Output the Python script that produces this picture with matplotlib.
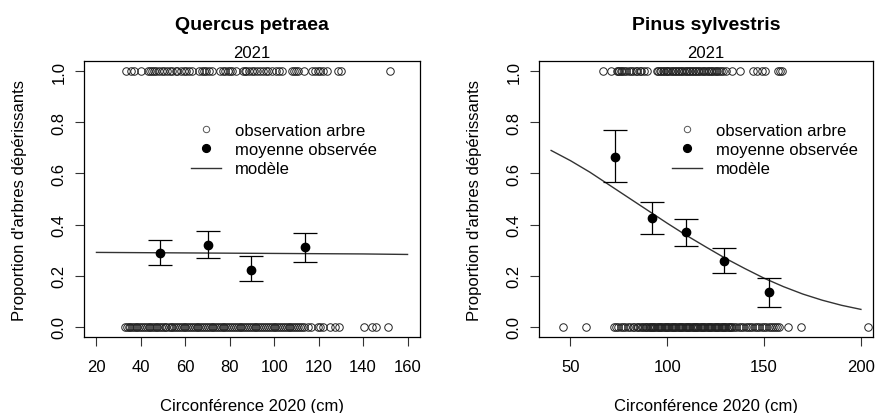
import matplotlib
matplotlib.use("Agg")
import matplotlib.pyplot as plt
from matplotlib.lines import Line2D

plt.rcParams['font.family'] = ['Liberation Sans', 'DejaVu Sans']

# ---- Quercus petraea ----
qp_obs1 = [33.2, 35.4, 36.8, 40.1, 43.0, 44.2, 45.1, 46.0, 46.9, 48.3, 49.5, 50.2, 51.8, 53.0,
           54.1, 55.6, 56.3, 57.9, 59.2, 60.4, 61.5, 62.8, 66.3, 67.5, 68.2, 69.4, 70.6, 72.0,
           75.4, 76.8, 78.0, 79.3, 80.1, 81.2, 82.9, 85.8, 86.7, 87.5, 88.6, 89.9, 91.0, 92.2,
           93.4, 94.8, 96.1, 97.3, 99.0, 100.6, 102.1, 103.5, 107.9, 108.8, 109.7, 110.9, 113.2,
           116.9, 118.4, 119.6, 120.5, 121.8, 123.6, 128.6, 130.0, 152.2]
qp_obs0 = [33.0, 33.6, 34.5, 35.3, 36.0, 36.9, 37.8, 38.4, 39.3, 40.2, 41.0, 41.7, 42.6, 43.5,
           44.1, 45.0, 45.9, 46.6, 47.4, 48.3, 49.1, 50.0, 50.8, 51.5, 52.6, 53.4, 54.2, 55.1,
           55.9, 56.7, 57.6, 58.3, 59.2, 60.0, 60.9, 61.7, 62.5, 63.4, 64.2, 65.1, 65.8, 66.7,
           67.6, 68.4, 69.3, 70.1, 70.9, 71.8, 72.6, 73.5, 74.3, 75.0, 75.9, 76.8, 77.6, 78.5,
           79.3, 80.2, 81.0, 81.9, 82.7, 83.5, 84.4, 85.2, 86.1, 86.9, 87.8, 88.6, 89.5, 90.3,
           91.2, 92.0, 92.9, 93.7, 94.6, 95.4, 96.3, 97.1, 98.0, 98.8, 99.7, 100.5, 101.4, 102.2,
           103.1, 103.9, 104.8, 105.6, 106.5, 107.3, 108.2, 109.0, 109.9, 110.7, 111.6, 112.4,
           113.3, 115.2, 116.4, 119.6, 120.8, 122.1, 124.9, 127.4, 129.3, 140.4, 143.8, 145.9, 151.0]
qp_cls = [48.6, 70.1, 89.5, 113.9]
qp_mean = [0.289, 0.320, 0.224, 0.312]
qp_lo = [0.241, 0.268, 0.178, 0.255]
qp_hi = [0.341, 0.373, 0.276, 0.368]
qp_mod_x = [20, 40, 60, 80, 100, 120, 140, 160]
qp_mod_y = [0.291, 0.290, 0.289, 0.288, 0.287, 0.286, 0.285, 0.283]

# ---- Pinus sylvestris ----
ps_obs1 = [66.6, 70.7, 73.8, 74.6, 75.3, 76.0, 76.8, 77.5, 78.9, 80.2, 81.0, 82.4, 83.7, 84.5,
           85.8, 86.6, 87.9, 89.6, 94.5, 95.3, 96.0, 96.9, 97.6, 98.4, 99.1, 99.9, 100.6, 101.5,
           102.2, 103.0, 103.8, 104.5, 105.3, 106.2, 107.0, 107.7, 108.6, 109.4, 110.1, 111.0,
           111.8, 112.5, 113.4, 114.2, 115.0, 115.9, 116.6, 117.5, 118.3, 119.1, 120.0, 120.8,
           121.7, 122.4, 123.3, 124.1, 125.0, 125.8, 126.7, 127.5, 128.6, 130.4, 133.3, 137.6,
           144.3, 146.5, 148.8, 150.6, 157.2, 158.0, 159.0]
ps_obs0 = [45.9, 57.8, 72.5, 73.4, 74.6, 76.1, 77.0, 78.3, 79.8, 80.9, 82.1, 83.0, 84.2, 85.1,
           86.0, 86.8, 87.5, 88.3, 89.0, 89.7, 90.3, 90.9, 91.5, 92.1, 92.7, 93.3, 93.9, 94.5,
           95.1, 95.7, 96.3, 96.9, 97.5, 98.1, 98.7, 99.3, 99.9, 100.5, 101.1, 101.7, 102.3,
           102.9, 103.5, 104.1, 104.7, 105.3, 105.9, 106.5, 107.1, 107.7, 108.3, 108.9, 109.5,
           110.1, 110.7, 111.3, 111.9, 112.5, 113.1, 113.7, 114.3, 114.9, 115.5, 116.1, 116.7,
           117.3, 117.9, 118.5, 119.1, 119.7, 120.3, 120.9, 121.5, 122.1, 122.7, 123.3, 123.9,
           124.5, 125.1, 125.7, 126.3, 126.9, 127.5, 128.1, 128.7, 129.3, 129.9, 130.5, 131.1,
           131.7, 132.3, 132.9, 133.5, 134.4, 135.6, 136.8, 137.9, 139.2, 140.5, 141.6, 142.9,
           144.0, 145.2, 146.5, 147.6, 148.8, 150.1, 151.2, 152.5, 153.6, 154.7, 155.8, 156.9,
           157.8, 162.3, 169.1, 203.8]
ps_cls = [72.9, 92.2, 109.6, 129.5, 152.4]
ps_mean = [0.666, 0.425, 0.369, 0.259, 0.135]
ps_lo = [0.565, 0.362, 0.317, 0.211, 0.077]
ps_hi = [0.769, 0.489, 0.420, 0.307, 0.190]
ps_mod_x = [40, 50, 60, 70, 80, 90, 100, 110, 120, 130, 140, 150, 160, 170, 180, 190, 200]
ps_mod_y = [0.690, 0.650, 0.605, 0.555, 0.505, 0.455, 0.405, 0.357, 0.312, 0.268, 0.228,
            0.190, 0.157, 0.128, 0.104, 0.084, 0.068]

y_ticks = [0.0, 0.2, 0.4, 0.6, 0.8, 1.0]
y_labels = ["0.0", "0.2", "0.4", "0.6", "0.8", "1.0"]

FS = 12
fig = plt.figure(figsize=(8.77, 4.14), dpi=100)
ax1 = fig.add_axes([0.0958, 0.1836, 0.3831, 0.6666])
ax2 = fig.add_axes([0.6143, 0.1836, 0.3815, 0.6666])


def panel(ax, title, obs1, obs0, cls, mean, lo, hi, mx, my, xlim, xticks, leg_x):
    ax.plot(obs1, [1] * len(obs1), 'o', mfc='none', mec='#222222', ms=5.4, mew=0.7)
    ax.plot(obs0, [0] * len(obs0), 'o', mfc='none', mec='#222222', ms=5.4, mew=0.7)
    ax.plot(mx, my, '-', color='#333333', lw=1.0)
    err = [[m - l for m, l in zip(mean, lo)], [h - m for m, h in zip(mean, hi)]]
    ax.errorbar(cls, mean, yerr=err, fmt='o', color='black', ms=6.0, capsize=8.5,
                elinewidth=0.9, capthick=0.9)
    ax.set_xlim(xlim[0] - 0.04 * (xlim[1] - xlim[0]), xlim[1] + 0.04 * (xlim[1] - xlim[0]))
    ax.set_ylim(-0.04, 1.04)
    ax.set_xticks(xticks)
    ax.set_yticks(y_ticks)
    ax.set_yticklabels(y_labels, rotation=90, va='center')
    ax.tick_params(axis='both', length=6.5, width=0.8, labelsize=FS, color='#333333')
    ax.tick_params(axis='x', pad=9)
    ax.tick_params(axis='y', pad=6)
    for s in ax.spines.values():
        s.set_linewidth(0.9)
    ax.set_title('2021', fontsize=FS, pad=3)
    ax.text(0.5, 1.116, title, transform=ax.transAxes, ha='center', va='baseline',
            fontsize=14, fontweight='bold')
    ax.set_xlabel('Circonférence 2020 (cm)', fontsize=FS)
    ax.xaxis.set_label_coords(0.5, -0.22)
    ax.set_ylabel("Proportion d'arbres dépérissants", fontsize=FS)
    ax.yaxis.set_label_coords(-0.17, 0.5)
    handles = [Line2D([], [], ls='none', marker='o', mfc='none', mec='#555555', ms=4.6, mew=0.7),
               Line2D([], [], ls='none', marker='o', color='black', ms=5.6),
               Line2D([], [], color='#333333', lw=1.0)]
    ax.legend(handles, ['observation arbre', 'moyenne observée', 'modèle'], loc='upper left',
              bbox_to_anchor=(leg_x, 0.775), frameon=False, fontsize=FS, handlelength=1.8,
              handletextpad=0.85, labelspacing=0.25, borderpad=0, borderaxespad=0)


panel(ax1, 'Quercus petraea', qp_obs1, qp_obs0, qp_cls, qp_mean, qp_lo, qp_hi,
      qp_mod_x, qp_mod_y, (20, 160), [20, 40, 60, 80, 100, 120, 140, 160], 0.318)
panel(ax2, 'Pinus sylvestris', ps_obs1, ps_obs0, ps_cls, ps_mean, ps_lo, ps_hi,
      ps_mod_x, ps_mod_y, (40, 200), [50, 100, 150, 200], 0.399)

fig.savefig('out.png', dpi=100)
